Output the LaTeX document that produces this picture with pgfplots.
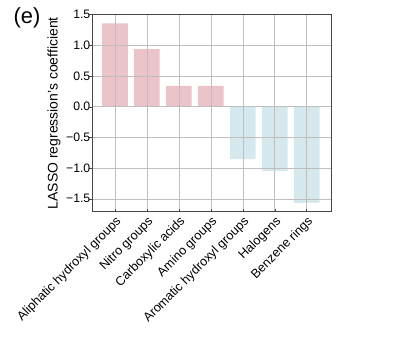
\documentclass[border=0pt]{standalone}
\usepackage{fontspec}
\setmainfont{Liberation Sans}
\usepackage{pgfplots}
\pgfplotsset{compat=1.18}
\definecolor{pinkbar}{RGB}{234,196,200}
\definecolor{bluebar}{RGB}{212,232,238}
\definecolor{gridc}{RGB}{190,190,190}
\definecolor{framec}{RGB}{70,70,70}
\begin{document}
\begin{tikzpicture}
\useasboundingbox (-92bp,-127.3bp) rectangle (302bp,211.7bp);
\begin{axis}[
  at={(0,0)}, anchor=south west,
  scale only axis, width=239bp, height=197bp,
  xmin=-0.72, xmax=6.76, ymin=-1.71, ymax=1.5,
  xtick={0,1,2,3,4,5,6},
  xticklabels={Aliphatic hydroxyl groups, Nitro groups, Carboxylic acids, Amino groups, Aromatic hydroxyl groups, Halogens, Benzene rings},
  x tick label style={rotate=45, anchor=north east, inner sep=2.5bp, font=\fontsize{12.7}{14}\selectfont},
  ytick={-1.5,-1,-0.5,0,0.5,1,1.5},
  yticklabels={−1.5,−1.0,−0.5,0.0,0.5,1.0,1.5},
  y tick label style={inner sep=1.5bp, font=\fontsize{12.3}{14}\selectfont},
  tick pos=left,
  tick align=inside,
  major tick length=3bp,
  ytick style={xshift=-3bp},
  tick style={framec, line width=0.5pt},
  grid=major,
  major grid style={gridc, line width=0.6pt},
  axis line style={framec, line width=0.7pt},
  axis on top,
  ylabel={LASSO regression's coefficient},
  ylabel style={at={(axis description cs:-0.159,0.5)}, anchor=center, font=\fontsize{14}{16}\selectfont},
  clip=false,
]
\addplot[ybar, bar width=0.8, bar shift=0pt, fill=pinkbar, draw=none] coordinates {(0,1.36) (1,0.94) (2,0.34) (3,0.34)};
\addplot[ybar, bar width=0.8, bar shift=0pt, fill=bluebar, draw=none] coordinates {(4,-0.853) (5,-1.05) (6,-1.566)};
\node[font=\fontsize{22}{24}\selectfont, anchor=center] at (axis description cs:-0.272,0.983) {(e)};
\end{axis}
\end{tikzpicture}
\end{document}
